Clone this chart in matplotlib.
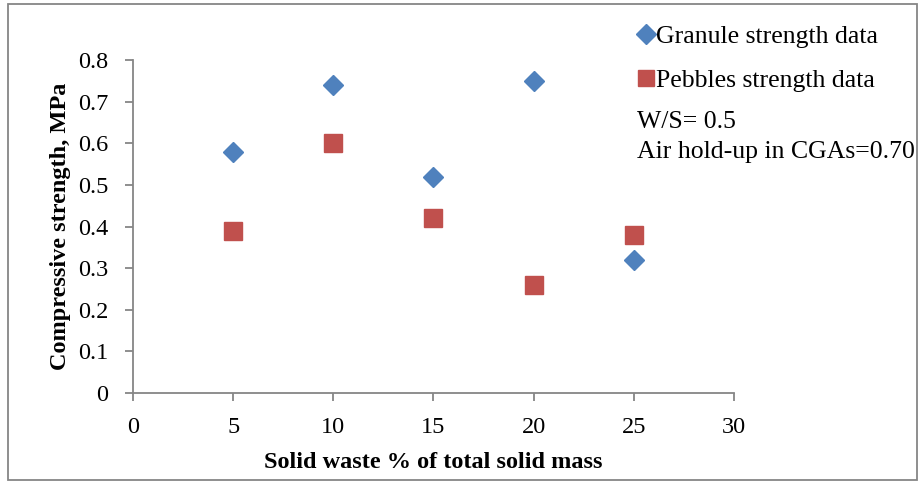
import matplotlib
matplotlib.use("Agg")
import matplotlib.pyplot as plt
from matplotlib.lines import Line2D
from matplotlib.patches import Rectangle

# solid waste content (% of total solid mass)
waste_pct = [5, 10, 15, 20, 25]
# compressive strength, MPa
granule_strength = [0.58, 0.74, 0.52, 0.75, 0.32]
pebble_strength = [0.39, 0.60, 0.42, 0.26, 0.38]

x_ticks = [0, 5, 10, 15, 20, 25, 30]
y_ticks = [0, 0.1, 0.2, 0.3, 0.4, 0.5, 0.6, 0.7, 0.8]

plt.rcParams['font.family'] = ['Liberation Serif', 'DejaVu Serif']
fs = 17.5
fs_side = 18.5  # legend and side notes

axis_grey = '#868686'
blue = '#4F81BD'
red = '#C0504D'

fig = plt.figure(figsize=(9.23, 4.83), dpi=100)
ax = fig.add_axes([0.1441, 0.1863, 0.6511, 0.6895])

ax.plot(waste_pct, granule_strength, linestyle='none', marker='D', markersize=9.7,
        color=blue, markeredgecolor=blue, label='Granule strength data')
ax.plot(waste_pct, pebble_strength, linestyle='none', marker='s', markersize=13.5,
        color=red, markeredgecolor=red, label='Pebbles strength data')

ax.set_xlim(0, 30)
ax.set_ylim(0, 0.8)
ax.set_xticks(x_ticks)
ax.set_yticks(y_ticks)
ax.set_xticklabels([str(t) for t in x_ticks], fontsize=fs)
ax.set_yticklabels(['0'] + [f'{t:.1f}' for t in y_ticks[1:]], fontsize=fs)

for side in ['top', 'right']:
    ax.spines[side].set_visible(False)
for side in ['left', 'bottom']:
    ax.spines[side].set_color(axis_grey)
    ax.spines[side].set_linewidth(1.3)
ax.tick_params(direction='out', length=6, width=1.3, color=axis_grey)
ax.tick_params(axis='y', pad=12)
ax.tick_params(axis='x', pad=11)

ax.set_xlabel('Solid waste % of total solid mass', fontweight='bold', fontsize=fs, labelpad=10)
ax.set_ylabel('Compressive strength, MPa', fontweight='bold', fontsize=fs, labelpad=5)

# legend in the right margin
handles = [Line2D([], [], linestyle='none', marker='D', markersize=9.7, color=blue),
           Line2D([], [], linestyle='none', marker='s', markersize=12, color=red)]
fig.legend(handles, ['Granule strength data', 'Pebbles strength data'],
           loc='upper left', bbox_to_anchor=(0.666, 0.997), frameon=False,
           handlelength=0.6, handletextpad=0.1, labelspacing=0.85, fontsize=fs_side)

fig.text(0.69, 0.748, 'W/S= 0.5', fontsize=fs_side, va='center')
fig.text(0.69, 0.686, 'Air hold-up in CGAs=0.70', fontsize=fs_side, va='center')

# outer chart border
fig.add_artist(Rectangle((0.009, 0.006), 0.985, 0.985, transform=fig.transFigure,
                         fill=False, edgecolor=axis_grey, linewidth=1.3))

fig.savefig('out.png', dpi=100)
